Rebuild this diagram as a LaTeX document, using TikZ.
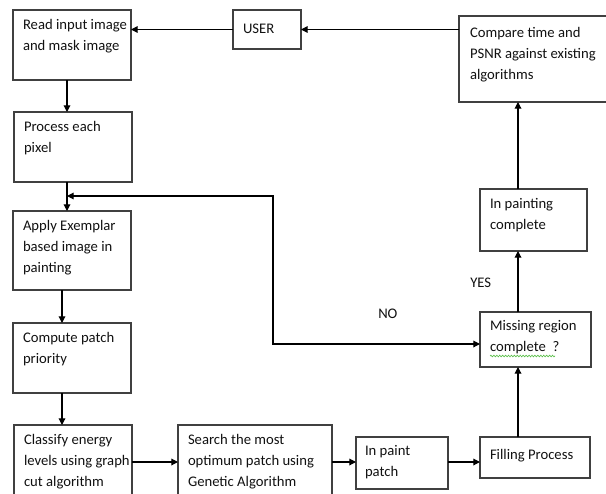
\documentclass[tikz,border=0pt]{standalone}
\usepackage{fontspec}
\setmainfont{Carlito}
\usetikzlibrary{arrows.meta,decorations.pathmorphing}
\definecolor{boxline}{HTML}{404040}
\definecolor{txt}{HTML}{111111}
\definecolor{squig}{HTML}{5BBF4A}
\tikzset{
  box/.style={draw=boxline, line width=0.95pt, anchor=north west, inner sep=0pt, outer sep=0pt},
  lbl/.style={anchor=north west, inner sep=0pt, outer sep=0pt, align=left, text=txt,
    font=\fontsize{11}{15.75}\selectfont, execute at begin node=\strut},
  arr/.style={draw=black, line width=0.85pt, -{Triangle[length=5pt,width=5pt]}},
  arrboth/.style={draw=black, line width=0.85pt, {Triangle[length=5pt,width=5pt]}-{Triangle[length=5pt,width=5pt]}},
  tag/.style={anchor=base west, inner sep=0pt, text=txt, font=\fontsize{11}{15.75}\selectfont}
}
\begin{document}
\begin{tikzpicture}[x=0.75pt,y=-0.75pt]
\useasboundingbox (0,0) rectangle (606,493);
\clip (0,0) rectangle (606,493);
% boxes
\node[box, minimum width=118*0.75pt, minimum height=70*0.75pt] (read) at (13,10) {};
\node[box, minimum width=68*0.75pt, minimum height=39*0.75pt] (user) at (233,10) {};
\node[box, minimum width=170*0.75pt, minimum height=86*0.75pt] (compare) at (459,16) {};
\node[box, minimum width=118*0.75pt, minimum height=70*0.75pt] (process) at (14,112) {};
\node[box, minimum width=118*0.75pt, minimum height=79*0.75pt] (apply) at (13,211) {};
\node[box, minimum width=118*0.75pt, minimum height=70*0.75pt] (compute) at (13,323) {};
\node[box, minimum width=118*0.75pt, minimum height=90*0.75pt] (classify) at (14,425) {};
\node[box, minimum width=154*0.75pt, minimum height=90*0.75pt] (search) at (178,425) {};
\node[box, minimum width=92*0.75pt, minimum height=52*0.75pt] (inpaint) at (356,437) {};
\node[box, minimum width=110*0.75pt, minimum height=41*0.75pt] (filling) at (480,437) {};
\node[box, minimum width=111*0.75pt, minimum height=55*0.75pt] (missing) at (480,312) {};
\node[box, minimum width=107*0.75pt, minimum height=62*0.75pt] (complete) at (480,189) {};
% texts
\node[lbl] (tread) at (23,19) {Read input image\\and mask image};
\node[lbl] (tuser) at (243,19) {USER};
\node[lbl] (tcompare) at (470,27) {Compare time and\\PSNR against existing\\algorithms};
\node[lbl] (tprocess) at (24,121) {Process each\\pixel};
\node[lbl] (tapply) at (23,220) {Apply Exemplar\\based image in\\painting};
\node[lbl] (tcompute) at (23,332) {Compute patch\\priority};
\node[lbl] (tclassify) at (24,434) {Classify energy\\levels using graph\\cut algorithm};
\node[lbl] (tsearch) at (188,434) {Search the most\\optimum patch using\\Genetic Algorithm};
\node[lbl] (tinpaint) at (365,445) {In paint\\patch};
\node[lbl] (tfilling) at (490,445) {Filling Process};
\node[lbl] (tmissing) at (490,320) {Missing region\\complete\ \ ?};
\node[lbl] (tcomplete) at (490,198) {In painting\\complete};
\node[tag] (yes) at (470,287) {YES};
\node[tag] (no) at (378,318) {NO};
% spell-check squiggle
\coordinate (sq1) at (490,356);
\coordinate (sq2) at (555,356);
\draw[squig, line width=0.5pt, decorate, decoration={snake, amplitude=0.6pt, segment length=2.2pt}] (sq1) -- (sq2);
% helper coordinates
\coordinate (sp) at (67,0);
\coordinate (sp2) at (62,0);
\coordinate (row) at (0,462);
\coordinate (col) at (518,0);
\coordinate (fb1) at (273,344);
\coordinate (fb2) at (273,196);
\coordinate (fbt) at (67,196);
% connectors
\draw[arr] (compare.west |- user.east) -- (user.east);
\draw[arr] (user.west) -- (user.west -| read.east);
\draw[arr] (read.south -| sp) -- (process.north -| sp);
\draw[arr] (process.south -| sp) -- (apply.north -| sp);
\draw[arr] (apply.south -| sp2) -- (compute.north -| sp2);
\draw[arr] (compute.south -| sp2) -- (classify.north -| sp2);
\draw[arr] (classify.east |- row) -- (search.west |- row);
\draw[arr] (search.east |- row) -- (inpaint.west |- row);
\draw[arr] (inpaint.east |- row) -- (filling.west |- row);
\draw[arr] (filling.north -| col) -- (missing.south -| col);
\draw[arr] (missing.north -| col) -- (complete.south -| col);
\draw[arr] (complete.north -| col) -- (compare.south -| col);
\draw[arrboth] (missing.west |- fb1) -- (fb1) -- (fb2) -- (fbt);
\end{tikzpicture}
\end{document}
